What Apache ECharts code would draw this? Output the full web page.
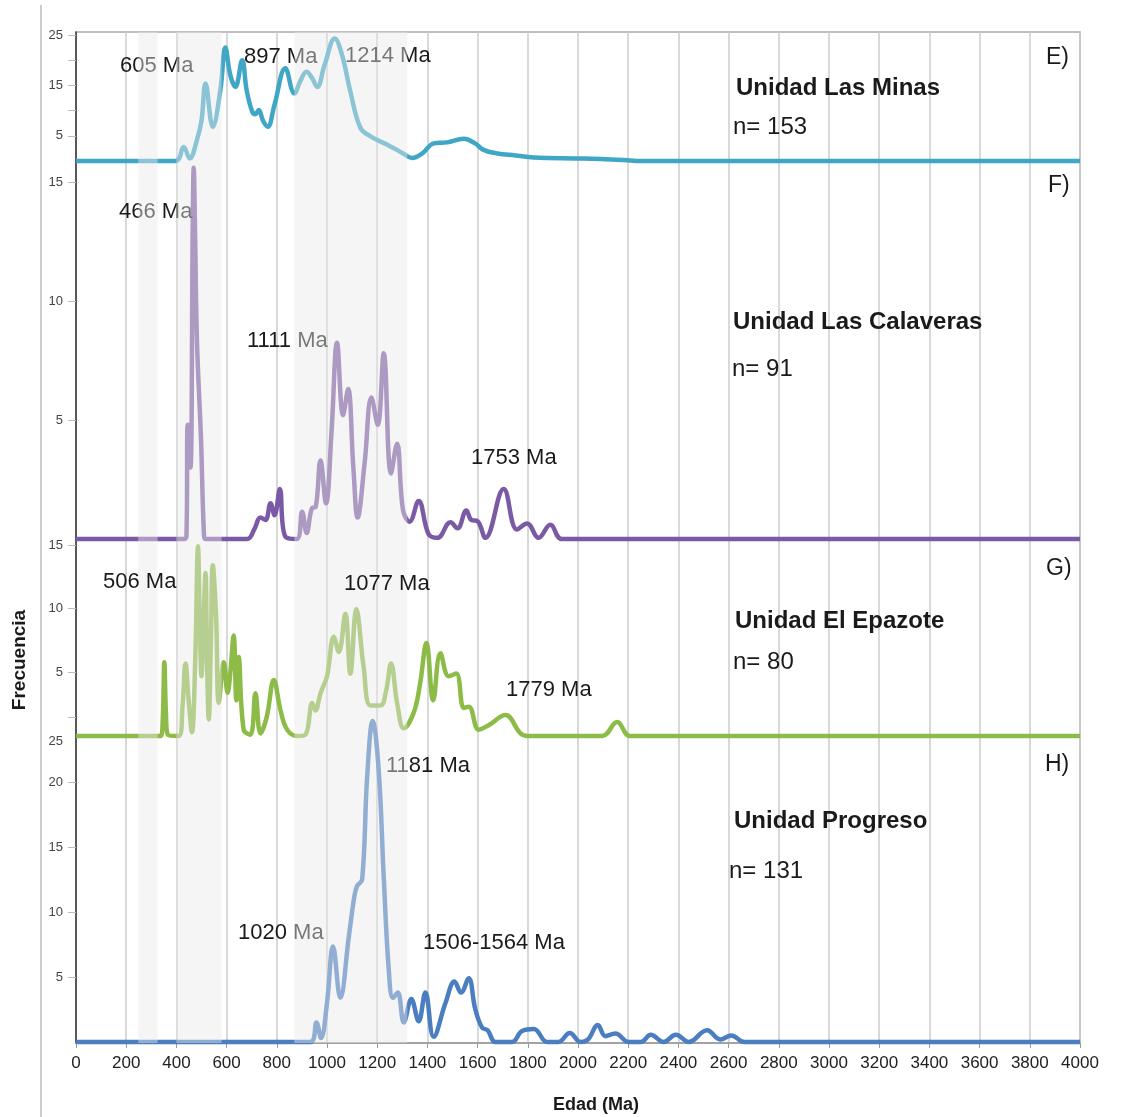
<!DOCTYPE html>
<html>
<head>
<meta charset="utf-8">
<script src="https://cdn.jsdelivr.net/npm/echarts@6/dist/echarts.min.js"></script>
<style>
  html, body { margin: 0; padding: 0; background: #fff; }
  #chart { width: 1126px; height: 1117px; }
</style>
</head>
<body>
<div id="chart"></div>
<script>
// Detrital zircon age spectra (probability density), four units on a shared age axis.

// E) Unidad Las Minas
const agesE = [0, 397, 429, 453, 482, 500, 516, 545, 575, 595, 615, 635, 662, 680, 702, 715, 728, 745, 764, 790, 834, 870, 895, 918, 940, 961, 990, 1031, 1060, 1093, 1133, 1173, 1253, 1300, 1339, 1380, 1425, 1478, 1545, 1590, 1624, 1678, 1750, 1824, 2022, 2181, 2250, 4000];
const freqE = [0, 0, 2.8, 0.5, 4.2, 8, 15.4, 6.8, 14, 22.5, 17, 14.7, 20, 14, 9.8, 9.3, 10.1, 8, 6.8, 11, 18.4, 13.4, 16, 17.7, 16.5, 14.7, 19, 24.3, 21, 13.8, 6.6, 4.9, 2.9, 1.6, 0.6, 1.5, 3.5, 3.7, 4.4, 3.5, 2.2, 1.5, 1.1, 0.7, 0.5, 0.2, 0, 0];

// F) Unidad Las Calaveras
const agesF = [0, 430, 440, 445, 456, 465, 469, 474, 482, 498, 509, 516, 682, 710, 735, 755, 775, 791, 812, 834, 880, 901, 919, 940, 955, 974, 996, 1018, 1040, 1064, 1084, 1105, 1122, 1150, 1177, 1202, 1226, 1255, 1279, 1303, 1329, 1365, 1405, 1440, 1492, 1520, 1555, 1575, 1600, 1631, 1704, 1757, 1797, 1843, 1890, 1937, 4000];
const freqF = [0, 0, 0.1, 4.8, 3.0, 13.1, 15.6, 13.1, 8.3, 4.2, 0.4, 0, 0, 0.4, 0.9, 0.8, 1.5, 1.0, 2.1, 0.1, 0, 1.15, 0.25, 1.3, 1.35, 3.3, 1.5, 4.5, 8.25, 5.2, 6.3, 3, 0.9, 3.2, 5.95, 4.8, 7.8, 2.75, 4.0, 1.2, 0.73, 1.6, 0.2, 0.05, 0.7, 0.45, 1.2, 0.8, 0.75, 0.05, 2.1, 0.4, 0.65, 0.05, 0.6, 0, 0];

// G) Unidad El Epazote
const agesG = [0, 336, 345, 352, 358, 366, 409, 425, 436, 450, 462, 475, 486, 493, 500, 508, 516, 522, 529, 537, 545, 558, 569, 589, 604, 615, 628, 639, 648, 668, 695, 715, 735, 760, 788, 815, 841, 881, 914, 941, 954, 974, 1000, 1027, 1047, 1073, 1093, 1117, 1146, 1173, 1213, 1235, 1255, 1280, 1306, 1345, 1370, 1396, 1423, 1452, 1485, 1515, 1545, 1565, 1605, 1644, 1711, 1771, 1800, 2096, 2156, 2209, 4000];
const freqG = [0, 0, 1, 5.8, 2, 0.1, 0, 2.5, 5.7, 2.5, 0.3, 6, 14.9, 9, 4.7, 9, 12.8, 6, 1.3, 7, 13.4, 9.4, 2.6, 5.8, 3.4, 5, 7.9, 2.8, 6.2, 0.5, 0.1, 3.35, 0.2, 1.5, 4.4, 2, 0.5, 0, 0.1, 2.6, 2.0, 3.35, 4.7, 7.8, 6.6, 9.6, 4.9, 9.95, 5.4, 2.4, 2.4, 3.5, 5.7, 2.5, 0.6, 1.8, 4, 7.3, 2.8, 6.5, 4.7, 4.9, 2.2, 2.3, 0.5, 0.85, 1.65, 0.2, 0, 0, 1.1, 0, 0];

// H) Unidad Progreso
const agesH = [0, 934, 958, 976, 1000, 1024, 1053, 1087, 1109, 1120, 1140, 1160, 1182, 1206, 1226, 1246, 1263, 1282, 1306, 1336, 1365, 1392, 1425, 1472, 1508, 1534, 1564, 1591, 1618, 1640, 1671, 1737, 1777, 1824, 1877, 1922, 1967, 2010, 2040, 2079, 2109, 2149, 2202, 2250, 2290, 2341, 2390, 2441, 2514, 2567, 2611, 2663, 4000];
const freqH = [0, 0, 1.5, 0.3, 3.0, 7.35, 3.4, 8.1, 11.2, 12.0, 12.5, 20.4, 24.7, 20.9, 12.7, 5.6, 3.4, 3.8, 1.5, 3.3, 1.6, 3.8, 0.4, 3.0, 4.65, 3.8, 4.9, 2.5, 1.1, 0.9, 0, 0, 0.85, 1.0, 0, 0, 0.7, 0, 0.2, 1.3, 0.45, 0.65, 0, 0, 0.55, 0, 0.55, 0, 0.9, 0.2, 0.5, 0, 0];

// Shaded age intervals (Ma)
const bandStarts = [248, 400, 870];
const bandEnds = [325, 580, 1320];

// Unit names, sample counts, panel letters
const unitNames = ['Unidad Las Minas', 'Unidad Las Calaveras', 'Unidad El Epazote', 'Unidad Progreso'];
const sampleCounts = ['n= 153', 'n= 91', 'n= 80', 'n= 131'];
const panelLetters = ['E)', 'F)', 'G)', 'H)'];

// Peak annotations per unit
const peaksE = ['605 Ma', '897 Ma', '1214 Ma'];
const peaksF = ['466 Ma', '1111 Ma', '1753 Ma'];
const peaksG = ['506 Ma', '1077 Ma', '1779 Ma'];
const peaksH = ['1181 Ma', '1020 Ma', '1506-1564 Ma'];

// Y axis ticks and labels per unit
const yMax = [25, 15, 15, 25];
const yTickValues = [[5, 10, 15, 20, 25], [5, 10, 15], [5, 10, 15], [5, 10, 15, 20, 25]];
const yLabelValues = [[5, 15, 25], [5, 10, 15], [5, 10, 15], [5, 10, 15, 20, 25]];

const FONT = '"Liberation Sans", Arial, sans-serif';
const colors = ['#3fa6c5', '#7a5aa5', '#8dbb48', '#4a7ec0'];
const pairs = (a, f) => a.map((x, i) => [x, f[i]]);
const seriesData = [pairs(agesE, freqE), pairs(agesF, freqF), pairs(agesG, freqG), pairs(agesH, freqH)];

const L = 76, R = 46;
const panelGrids = [
  { left: L, right: R, top: 35, height: 126 },
  { left: L, right: R, top: 182, height: 357 },
  { left: L, right: R, top: 545, height: 191 },
  { left: L, right: R, top: 717, height: 325 }
];

const grid = [{ left: L, right: R, top: 32, bottom: 74, show: true, borderColor: '#a8a8a8', borderWidth: 1.5, backgroundColor: 'transparent' }]
  .concat(panelGrids);

const xAxis = [{
  gridIndex: 0, type: 'value', min: 0, max: 4000, interval: 200,
  axisLine: { show: true, lineStyle: { color: '#999', width: 1.5 } },
  axisTick: { show: true, length: 5, lineStyle: { color: '#999' } },
  axisLabel: { fontSize: 17, color: '#222', margin: 12, fontFamily: FONT, formatter: v => String(v) },
  splitLine: { show: true, lineStyle: { color: '#cdcdcd', width: 1.5 } }
}];
panelGrids.forEach((g, i) => xAxis.push({ gridIndex: i + 1, type: 'value', min: 0, max: 4000, show: false }));

const yAxis = [{
  gridIndex: 0, type: 'value', min: 0, max: 1,
  axisLine: { show: true, lineStyle: { color: '#333', width: 1.5 } },
  axisTick: { show: false }, axisLabel: { show: false }, splitLine: { show: false }
}];
panelGrids.forEach((g, i) => yAxis.push({
  gridIndex: i + 1, type: 'value', min: 0, max: yMax[i],
  axisLine: { show: false },
  axisTick: { show: true, customValues: yTickValues[i], length: 8, lineStyle: { color: '#bbb' } },
  axisLabel: {
    customValues: yLabelValues[i], fontSize: 13, color: '#444', margin: 13, fontFamily: FONT,
    formatter: v => (i === 3 && v === 25) ? '{low|25}' : String(v),
    rich: { low: { padding: [48, 0, 0, 0], fontSize: 13, color: '#444', fontFamily: FONT } }
  },
  splitLine: { show: false }
}));

const series = seriesData.map((d, i) => ({
  type: 'line', xAxisIndex: i + 1, yAxisIndex: i + 1, data: d,
  smooth: 0.4, symbol: 'none', showSymbol: false, clip: false, silent: true,
  lineStyle: { color: colors[i], width: 4.5 }, z: 3
}));

// Translucent overlay for the shaded age intervals
series.push({
  type: 'line', xAxisIndex: 0, yAxisIndex: 0, data: [[0, 0], [4000, 0]],
  symbol: 'none', silent: true, lineStyle: { opacity: 0 }, z: 6,
  markArea: {
    silent: true, z: 6,
    itemStyle: { color: 'rgba(232,232,232,0.45)' },
    data: bandStarts.map((s, i) => [{ xAxis: s }, { xAxis: bandEnds[i] }])
  }
});

function txt(text, x, y, opts) {
  opts = opts || {};
  return {
    type: 'text', x: x, y: y, z: opts.z || 4, rotation: opts.rotation || 0, silent: true,
    style: {
      text: text, fill: opts.color || '#1a1a1a',
      font: (opts.bold ? 'bold ' : '') + (opts.size || 22) + 'px ' + FONT,
      align: opts.align || 'left', verticalAlign: 'middle'
    }
  };
}

const graphic = [
  { type: 'line', silent: true, z: 1, shape: { x1: 41, y1: 5, x2: 41, y2: 1117 }, style: { stroke: '#bdbdbd', lineWidth: 1.5 } },
  // E
  txt(peaksE[0], 120, 66), txt(peaksE[1], 244, 57), txt(peaksE[2], 345, 56),
  // F
  txt(peaksF[0], 119, 212), txt(peaksF[1], 247, 341), txt(peaksF[2], 471, 458),
  // G (drawn above the shading)
  txt(peaksG[0], 103, 582, { z: 8 }), txt(peaksG[1], 344, 584, { z: 8 }), txt(peaksG[2], 506, 690, { z: 8 }),
  // H
  txt(peaksH[0], 386, 766), txt(peaksH[1], 238, 933), txt(peaksH[2], 423, 943),
  // unit names and counts
  txt(unitNames[0], 736, 88, { bold: true, size: 24 }), txt(sampleCounts[0], 733, 127, { size: 24 }),
  txt(unitNames[1], 733, 322, { bold: true, size: 24 }), txt(sampleCounts[1], 732, 369, { size: 24 }),
  txt(unitNames[2], 735, 621, { bold: true, size: 24 }), txt(sampleCounts[2], 733, 662, { size: 24 }),
  txt(unitNames[3], 734, 821, { bold: true, size: 24 }), txt(sampleCounts[3], 729, 871, { size: 24 }),
  // panel letters
  txt(panelLetters[0], 1046, 58, { size: 23 }), txt(panelLetters[1], 1048, 186, { size: 23 }),
  txt(panelLetters[2], 1046, 569, { size: 23 }), txt(panelLetters[3], 1045, 765, { size: 23 }),
  // axis titles
  txt('Frecuencia', 20, 660, { bold: true, size: 19, align: 'center', rotation: Math.PI / 2 }),
  txt('Edad (Ma)', 596, 1105, { bold: true, size: 18, align: 'center' })
];

const chart = echarts.init(document.getElementById('chart'), null, { renderer: 'canvas' });
chart.setOption({
  animation: false,
  backgroundColor: '#ffffff',
  grid: grid,
  xAxis: xAxis,
  yAxis: yAxis,
  series: series,
  graphic: graphic
});
</script>
</body>
</html>
